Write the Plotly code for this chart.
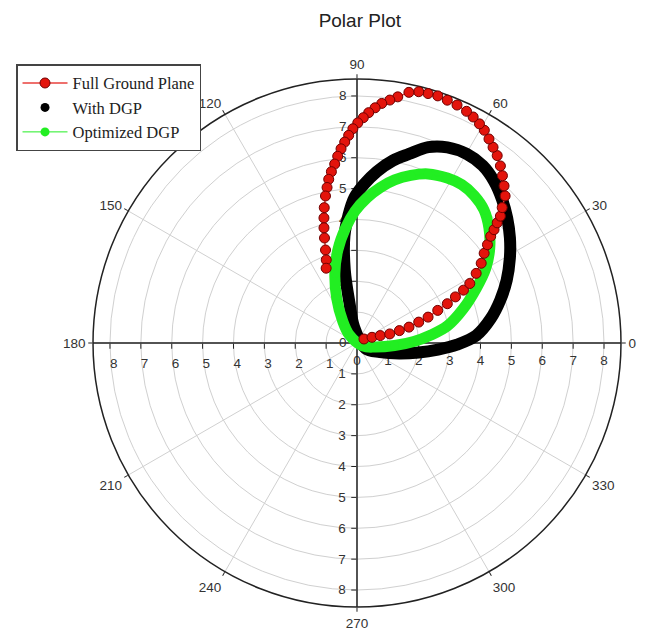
import plotly.graph_objects as go

# Radiation pattern samples: angle (degrees) and magnitude on the radial scale
fgp_theta = [30.0, 20.8, 17.7, 15.5, 16.3, 17.0, 18.7, 20.0, 22.0, 23.5,
             25.1, 26.4, 27.8, 30.3, 32.7, 35.2, 37.0, 38.6, 39.6, 40.6,
             41.5, 43.0, 44.8, 46.9, 49.0, 51.0, 53.2, 55.2, 57.1, 59.1,
             60.8, 62.8, 64.7, 67.2, 69.6, 71.9, 74.1, 76.2, 78.3, 80.6,
             82.3, 84.1, 85.6, 87.1, 88.4, 89.8, 91.1, 92.3, 93.5, 94.7,
             95.9, 97.1, 98.5, 99.8, 100.9, 102.1, 103.6, 104.8, 106.0, 107.2,
             108.7, 110.3, 112.4]
fgp_r = [0.26, 0.52, 0.79, 1.10, 1.43, 1.76, 2.11, 2.45, 2.82, 3.19,
         3.52, 3.85, 4.13, 4.47, 4.78, 5.04, 5.29, 5.54, 5.76, 5.98,
         6.20, 6.43, 6.76, 6.97, 7.18, 7.38, 7.58, 7.72, 7.87, 8.03,
         8.13, 8.23, 8.30, 8.36, 8.39, 8.42, 8.40, 8.38, 8.29, 8.08,
         7.94, 7.80, 7.64, 7.47, 7.30, 7.13, 6.94, 6.73, 6.52, 6.31,
         6.08, 5.84, 5.61, 5.38, 5.13, 4.87, 4.51, 4.19, 3.88, 3.56,
         3.18, 2.87, 2.62]

dgp_theta = [-32.7, -21.5, -14.0, -8.8, -4.6, -0.9, 3.6, 10.3, 16.6, 22.8,
             29.0, 34.5, 39.8, 44.7, 49.8, 54.7, 59.9, 65.2, 70.0, 74.6,
             78.9, 83.4, 87.5, 91.0, 93.9, 96.7, 99.5, 100.7, 100.3]
dgp_r = [0.33, 0.80, 1.41, 2.02, 2.63, 3.24, 3.87, 4.40, 4.84, 5.26,
         5.66, 6.01, 6.33, 6.61, 6.87, 7.04, 7.08, 6.98, 6.75, 6.35,
         6.02, 5.59, 5.14, 4.71, 4.13, 3.49, 2.40, 1.30, 0.52]

opt_theta = [-27.7, -12.5, -3.9, 1.5, 6.2, 10.7, 17.9, 24.6, 30.1, 35.5,
             41.1, 46.4, 51.5, 56.5, 61.3, 67.2, 72.2, 77.0, 81.5, 86.0,
             90.8, 95.7, 101.7, 107.6, 114.5, 123.0, 133.7]
opt_r = [0.21, 0.61, 1.22, 1.84, 2.41, 2.98, 3.62, 4.25, 4.82, 5.28,
         5.67, 5.96, 6.10, 6.15, 6.09, 5.94, 5.70, 5.42, 5.09, 4.72,
         4.28, 3.74, 3.07, 2.37, 1.58, 0.86, 0.36]

angle_ticks = list(range(0, 360, 30))
angle_labels = [str(a) for a in angle_ticks]
r_ticks = [0, 1, 2, 3, 4, 5, 6, 7, 8]
r_max = 8.55

RED = "#e3140c"
GREEN = "#22ee22"
AXIS = "#222222"
GRID = "#d0d0d0"
tick_font = dict(family="Liberation Sans, Arial, sans-serif", size=13.5, color="#333333")


def closed(values):
    return list(values) + list(values[:1])


fig = go.Figure()

# each half-axis lives on its own overlaid polar subplot; an invisible
# trace along the axis keeps the subplot rendered
for sub, ang in (("polar", 0), ("polar2", 180), ("polar3", 270)):
    fig.add_trace(go.Scatterpolar(
        r=r_ticks, theta=[ang] * len(r_ticks), mode="markers",
        marker=dict(size=1, opacity=0), showlegend=False, hoverinfo="skip",
        subplot=sub))

fig.add_trace(go.Scatterpolar(
    r=closed(dgp_r), theta=closed(dgp_theta), mode="lines",
    line=dict(color="black", width=12, shape="spline"),
    showlegend=False, hoverinfo="skip", subplot="polar4"))
fig.add_trace(go.Scatterpolar(
    r=dgp_r, theta=dgp_theta, mode="markers", name="With DGP",
    marker=dict(color="black", size=9), legendrank=2, subplot="polar4"))

fig.add_trace(go.Scatterpolar(
    r=closed(opt_r), theta=closed(opt_theta), mode="lines",
    line=dict(color=GREEN, width=11, shape="spline"),
    showlegend=False, hoverinfo="skip", subplot="polar4"))
fig.add_trace(go.Scatterpolar(
    r=opt_r, theta=opt_theta, mode="lines+markers", name="Optimized DGP",
    line=dict(color=GREEN, width=1), marker=dict(color=GREEN, size=9),
    legendrank=3, subplot="polar4"))

fig.add_trace(go.Scatterpolar(
    r=fgp_r, theta=fgp_theta, mode="lines+markers", name="Full Ground Plane",
    line=dict(color="#e8413c", width=1.5),
    marker=dict(color=RED, size=10, line=dict(color="#700000", width=1)),
    legendrank=1, subplot="polar4"))


def radial(angle, side, vals, tickangle, **extra):
    cfg = dict(range=[0, r_max], angle=angle, side=side, tickvals=vals,
               ticktext=[str(v) for v in vals], showline=True, linecolor=AXIS,
               linewidth=1.5, ticks="outside", ticklen=5, tickcolor=AXIS,
               tickfont=tick_font, tickangle=tickangle, showgrid=False)
    cfg.update(extra)
    return cfg


domain = dict(x=[0.14396, 0.96130], y=[0.03651, 0.87460])
hidden_angular = dict(visible=False, rotation=0, direction="counterclockwise")

fig.update_layout(
    width=646, height=630,
    margin=dict(l=0, r=0, t=0, b=0),
    paper_bgcolor="white",
    title=dict(text="Polar Plot", x=0.557, xanchor="center", y=0.967, yanchor="middle",
               font=dict(family="Liberation Sans, Arial, sans-serif", size=19, color="#222222")),
    polar=dict(
        domain=domain, bgcolor="white",
        angularaxis=dict(rotation=0, direction="counterclockwise",
                         tickvals=angle_ticks, ticktext=angle_labels,
                         ticks="outside", ticklen=4, tickcolor=AXIS,
                         showline=True, linecolor=AXIS, linewidth=1.5,
                         gridcolor=GRID, gridwidth=1, tickfont=tick_font),
        radialaxis=radial(0, "clockwise", r_ticks, 0, showgrid=True,
                          gridcolor=GRID, gridwidth=1),
    ),
    polar2=dict(domain=domain, bgcolor="rgba(0,0,0,0)", angularaxis=hidden_angular,
                radialaxis=radial(180, "counterclockwise", r_ticks[1:], 180)),
    polar3=dict(domain=domain, bgcolor="rgba(0,0,0,0)", angularaxis=hidden_angular,
                radialaxis=radial(270, "clockwise", r_ticks[1:], -90)),
    polar4=dict(domain=domain, bgcolor="rgba(0,0,0,0)", angularaxis=hidden_angular,
                radialaxis=radial(90, "counterclockwise", r_ticks, 90, layer="below traces")),
    legend=dict(x=0.0248, y=0.898, xanchor="left", yanchor="top",
                bgcolor="white", bordercolor="#444444", borderwidth=1.5,
                font=dict(family="Liberation Serif, Times New Roman, serif", size=16.5, color="#222222"),
                itemwidth=45, tracegroupgap=0),
    showlegend=True,
)

fig.write_html("out.html")
